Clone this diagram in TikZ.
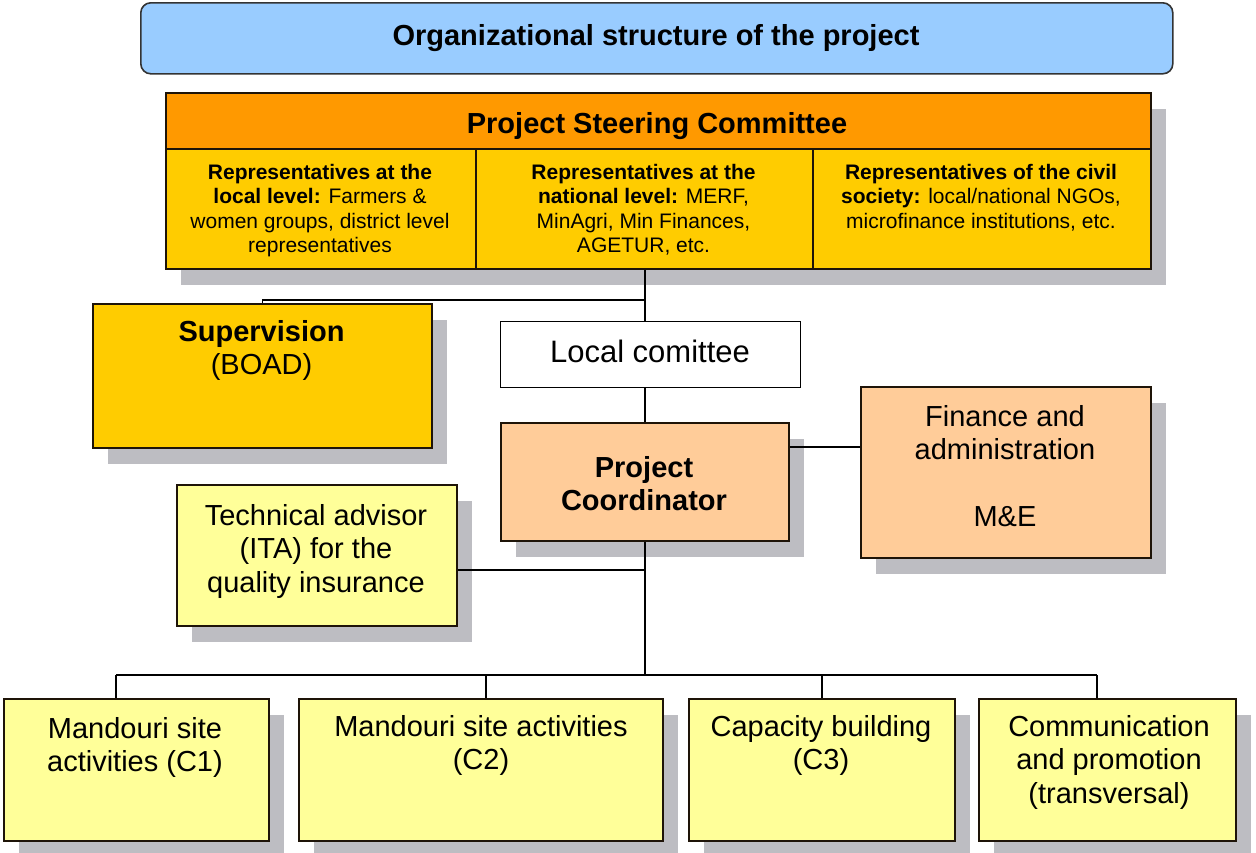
\documentclass[tikz,border=0pt]{standalone}
\usepackage{fontspec}
\setmainfont{Liberation Sans}
\usetikzlibrary{shadows}
\definecolor{titleblue}{HTML}{99CCFF}
\definecolor{headorange}{HTML}{FF9900}
\definecolor{goldbox}{HTML}{FFCC00}
\definecolor{peach}{HTML}{FFCC99}
\definecolor{paleyellow}{HTML}{FFFF99}
\definecolor{shadowgray}{HTML}{BDBDC2}
\definecolor{edge}{HTML}{1E1408}
\begin{document}
\begin{tikzpicture}[x=1pt,y=-1pt,
  rect/.style={draw=edge, line width=1.8pt, inner sep=0pt, anchor=north west},
  shad/.style={drop shadow={shadow xshift=15pt, shadow yshift=-16pt, fill=shadowgray, opacity=1}},
  big/.style={inner sep=0pt, anchor=north, align=center, font=\fontsize{29}{33.5}\selectfont},
  small/.style={inner sep=0pt, anchor=north, align=center, font=\fontsize{21}{24.5}\selectfont},
  conn/.style={draw=black, line width=1.5pt}]
\useasboundingbox (0,0) rectangle (1256,852);

% title
\node[rect, draw=black!80, line width=1.6pt, rounded corners=10pt, fill=titleblue,
  minimum width=1032pt, minimum height=71pt] (title) at (140,2) {};
\node[big, font=\fontsize{29}{33.5}\selectfont\bfseries] (titletext) at (656,21.5) {\strut Organizational structure of the project};

% steering committee
\node[rect, shad, fill=goldbox, minimum width=985pt, minimum height=176pt] (steer) at (165,92) {};
\node[rect, fill=headorange, minimum width=985pt, minimum height=56pt] (head) at (165,92) {};
\node[rect, fill=goldbox, minimum width=310pt, minimum height=120pt] (col1) at (165,148) {};
\node[rect, fill=goldbox, minimum width=337pt, minimum height=120pt] (col2) at (475,148) {};
\node[rect, fill=goldbox, minimum width=338pt, minimum height=120pt] (col3) at (812,148) {};
\node[big, font=\fontsize{29}{33.5}\selectfont\bfseries] (headtext) at (657,109.5) {\strut Project Steering Committee};
\node[small] (col1text) at (320,162) {\strut\textbf{Representatives at the}\\ \textbf{local level:} Farmers \&\\ women groups, district level\\ representatives};
\node[small] (col2text) at (643.5,162) {\strut\textbf{Representatives at the}\\ \textbf{national level:} MERF,\\ MinAgri, Min Finances,\\ AGETUR, etc.};
\node[small] (col3text) at (981,162) {\strut\textbf{Representatives of the civil}\\ \textbf{society:} local/national NGOs,\\ microfinance institutions, etc.};

% supervision
\node[rect, shad, fill=goldbox, minimum width=339pt, minimum height=144pt] (sup) at (92,303) {};
\node[big] (suptext) at (261.5,317.5) {\strut\textbf{Supervision}\\ (BOAD)};

% local committee
\node[rect, draw=black, line width=1pt, fill=white, minimum width=300pt, minimum height=66pt] (lc) at (500,321) {};
\node[big, font=\fontsize{31}{35}\selectfont] (lctext) at (650,337.5) {\strut Local comittee};

% project coordinator
\node[rect, shad, fill=peach, minimum width=288pt, minimum height=118pt] (pc) at (500,422) {};
\node[big, font=\fontsize{29}{33.5}\selectfont\bfseries] (pctext) at (644,453.5) {\strut Project\\ Coordinator};

% finance
\node[rect, shad, fill=peach, minimum width=290pt, minimum height=171pt] (fin) at (860,386) {};
\node[big] (fintext) at (1005,402.5) {\strut Finance and\\ administration\\[33.5pt] M\&E};

% technical advisor
\node[rect, shad, fill=paleyellow, minimum width=280pt, minimum height=141pt] (ta) at (176,484) {};
\node[big] (tatext) at (316,501.5) {\strut Technical advisor\\ (ITA) for the\\ quality insurance};

% bottom boxes
\node[rect, shad, fill=paleyellow, minimum width=265pt, minimum height=142pt] (c1) at (3,698) {};
\node[rect, shad, fill=paleyellow, minimum width=364pt, minimum height=142pt] (c2) at (298,698) {};
\node[rect, shad, fill=paleyellow, minimum width=266pt, minimum height=142pt] (c3) at (688,698) {};
\node[rect, shad, fill=paleyellow, minimum width=257pt, minimum height=142pt] (c4) at (978,698) {};
\node[big] (c1text) at (135,714.5) {\strut Mandouri site\\ activities (C1)};
\node[big] (c2text) at (481,712.5) {\strut Mandouri site activities\\ (C2)};
\node[big] (c3text) at (821,712.5) {\strut Capacity building\\ (C3)};
\node[big] (c4text) at (1109,712.5) {\strut Communication\\ and promotion\\ (transversal)};

% connectors
\coordinate (j1) at (645,300);
\coordinate (bus) at (645,675);
\coordinate (fy) at (0,447);
\coordinate (ty) at (0,570);
\coordinate (b1) at (116,675);
\coordinate (b2) at (486,675);
\coordinate (b3) at (822,675);
\coordinate (b4) at (1097,675);
\draw[conn] (j1 |- steer.south) -- (j1 |- lc.north);
\draw[conn] (j1) -| (sup.north);
\draw[conn] (j1 |- lc.south) -- (j1 |- pc.north);
\draw[conn] (j1 |- pc.south) -- (bus);
\draw[conn] (pc.east |- fy) -- (fin.west |- fy);
\draw[conn] (ta.east |- ty) -- (j1 |- ty);
\draw[conn] (b1) -- (b4);
\draw[conn] (b1) -- (b1 |- c1.north);
\draw[conn] (b2) -- (b2 |- c2.north);
\draw[conn] (b3) -- (b3 |- c3.north);
\draw[conn] (b4) -- (b4 |- c4.north);
\end{tikzpicture}
\end{document}
